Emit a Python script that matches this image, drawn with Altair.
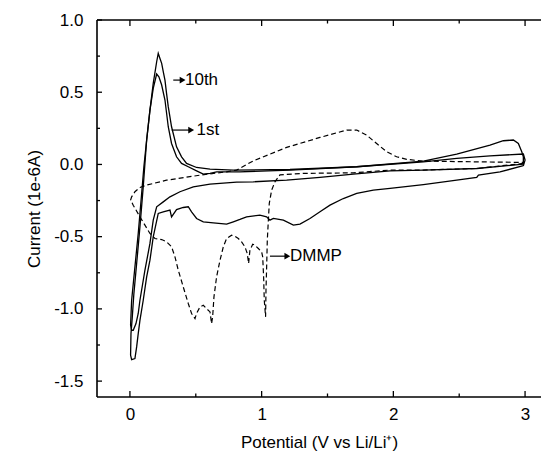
import altair as alt
import pandas as pd

# ---- data (potential V, current 1e-6 A) ----
first_x = [2.987, 2.810, 2.646, 2.633, 2.481, 2.228, 1.975, 1.848, 1.722, 1.620, 1.519, 1.443, 1.367, 1.291,
           1.241, 1.165, 1.089, 1.063, 1.038, 0.987, 0.886, 0.835, 0.785, 0.734, 0.633, 0.557, 0.506, 0.468,
           0.443, 0.405, 0.354, 0.316, 0.304, 0.253, 0.215, 0.177, 0.152, 0.127, 0.101, 0.076, 0.063, 0.051,
           0.038, 0.013,
           0.005, 0.008, 0.018, 0.030, 0.051, 0.076, 0.101, 0.127, 0.152, 0.177, 0.203, 0.220, 0.241, 0.266,
           0.291, 0.316, 0.354, 0.392, 0.443, 0.506, 0.557, 0.608, 0.658, 0.835, 1.215, 1.722, 2.228, 2.481,
           2.734, 2.987, 3.0, 2.987]
first_y = [-0.009, -0.051, -0.074, -0.090, -0.109, -0.139, -0.166, -0.178, -0.201, -0.236, -0.282, -0.328,
           -0.374, -0.413, -0.420, -0.386, -0.374, -0.386, -0.363, -0.351, -0.363, -0.381, -0.397, -0.413,
           -0.404, -0.397, -0.374, -0.328, -0.293, -0.298, -0.312, -0.363, -0.316, -0.328, -0.339, -0.501,
           -0.663, -0.778, -0.940, -1.079, -1.171, -1.263, -1.344, -1.351,
           -1.321, -1.171, -1.055, -0.894, -0.686, -0.432, -0.155, 0.169, 0.376, 0.527, 0.626, 0.607, 0.550,
           0.446, 0.261, 0.145, 0.053, 0.007, -0.016, -0.044, -0.067, -0.062, -0.051, -0.051, -0.039, -0.016,
           0.018, 0.042, 0.060, 0.072, 0.030, -0.009]

tenth_x = [2.987, 2.633, 2.228, 1.975, 1.696, 1.443, 1.190, 0.937, 0.810, 0.608, 0.481, 0.380, 0.304, 0.253,
           0.203, 0.177, 0.152, 0.114, 0.076, 0.063, 0.046, 0.025, 0.013,
           0.005, 0.013, 0.038, 0.063, 0.089, 0.106, 0.127, 0.152, 0.177, 0.203, 0.215, 0.228, 0.241, 0.253,
           0.266, 0.278, 0.291, 0.316, 0.354, 0.392, 0.430, 0.506, 0.608, 0.785, 1.215, 1.722, 2.228, 2.481,
           2.734, 2.835, 2.911, 2.949, 2.975, 2.987, 2.987]
tenth_y = [0.002, -0.028, -0.039, -0.044, -0.067, -0.090, -0.109, -0.120, -0.122, -0.136, -0.155, -0.189,
           -0.224, -0.259, -0.293, -0.386, -0.547, -0.732, -0.940, -1.032, -1.102, -1.148, -1.148,
           -1.113, -0.940, -0.709, -0.478, -0.201, -0.016, 0.169, 0.376, 0.561, 0.711, 0.769, 0.734, 0.700,
           0.642, 0.584, 0.492, 0.400, 0.261, 0.122, 0.053, 0.007, -0.021, -0.032, -0.039, -0.035, -0.016,
           0.023, 0.072, 0.134, 0.164, 0.169, 0.145, 0.088, 0.053, 0.002]

dmmp_x = [2.987, 2.633, 2.228, 1.975, 1.696, 1.316, 1.139, 1.101, 1.076, 1.058, 1.051, 1.043, 1.038, 1.033,
          1.030, 1.020, 1.015, 1.008, 1.000, 0.975, 0.949, 0.932, 0.911, 0.901, 0.891, 0.873, 0.848, 0.823,
          0.797, 0.772, 0.734, 0.709, 0.684, 0.658, 0.638, 0.628, 0.620, 0.608, 0.582, 0.557, 0.532, 0.506,
          0.494, 0.468, 0.443, 0.405, 0.367, 0.342, 0.316, 0.278, 0.241, 0.190, 0.152, 0.114, 0.076, 0.025,
          0.013, 0.005,
          0.013, 0.038, 0.076, 0.127, 0.278, 0.532, 0.734, 0.810, 0.937, 1.190, 1.443, 1.646, 1.722, 1.797,
          1.873, 1.949, 2.025, 2.101, 2.228, 2.987, 2.987]
dmmp_y = [0.007, -0.028, -0.039, -0.039, -0.058, -0.062, -0.072, -0.120, -0.178, -0.270, -0.386, -0.524,
          -0.709, -0.871, -1.055, -0.940, -0.778, -0.640, -0.605, -0.582, -0.559, -0.552, -0.594, -0.686,
          -0.617, -0.570, -0.536, -0.513, -0.497, -0.490, -0.513, -0.570, -0.663, -0.778, -0.917, -1.055,
          -1.102, -1.021, -0.998, -0.975, -0.986, -1.032, -1.067, -1.032, -0.963, -0.848, -0.732, -0.640,
          -0.570, -0.536, -0.520, -0.513, -0.478, -0.420, -0.363, -0.282, -0.259, -0.247,
          -0.224, -0.189, -0.159, -0.143, -0.109, -0.074, -0.051, -0.039, 0.025, 0.118, 0.187, 0.238, 0.238,
          0.203, 0.145, 0.088, 0.053, 0.035, 0.023, 0.014, 0.007]

x_major = [0, 1, 2, 3]
x_minor = [0.5, 1.5, 2.5]
y_major = [-1.5, -1.0, -0.5, 0.0, 0.5, 1.0]
y_minor = [-1.25, -0.75, -0.25, 0.25, 0.75]

labels = ["10th", "1st", "DMMP"]
label_x = [0.418, 0.506, 1.215]
label_y = [0.584, 0.238, -0.635]
arrow_x0 = [0.329, 0.317, 1.063]
arrow_x1 = [0.400, 0.465, 1.195]

# ---- tables ----
def frame(name, xs, ys):
    return pd.DataFrame({"x": xs, "y": ys, "series": name, "i": range(len(xs))})

solid = pd.concat([frame("1st", first_x, first_y), frame("10th", tenth_x, tenth_y)])
dashed = frame("DMMP", dmmp_x, dmmp_y)
ann = pd.DataFrame({"label": labels, "lx": label_x, "ly": label_y, "x0": arrow_x0, "x1": arrow_x1})

W, H = 444, 377
FONT = "Liberation Sans"
XT = "Potential (V vs Li/Li\u207a)"
YT = "Current (1e-6A)"
xs = alt.Scale(domain=[-0.25, 3.121], nice=False, zero=False)
ys = alt.Scale(domain=[-1.61, 1.0], nice=False, zero=False)

xaxis = alt.Axis(values=x_major, format=".0f", title=XT, labelPadding=9, titlePadding=12)
yaxis = alt.Axis(values=y_major, title=YT,
                 labelExpr="datum.value < 0 ? '-' + format(-datum.value, '.1f') : format(datum.value, '.1f')",
                 labelPadding=14, titlePadding=10)

lines = alt.Chart(solid).mark_line(color="black", strokeWidth=1.3).encode(
    x=alt.X("x:Q", scale=xs, axis=xaxis),
    y=alt.Y("y:Q", scale=ys, axis=yaxis),
    detail="series:N",
    order="i:Q",
)
dmmp = alt.Chart(dashed).mark_line(color="black", strokeWidth=1.2, strokeDash=[5, 3]).encode(
    x=alt.X("x:Q", scale=xs, title=XT),
    y=alt.Y("y:Q", scale=ys, title=YT),
    order="i:Q",
)

def xticks(vals, length):
    d = pd.DataFrame({"x": vals})
    bottom = alt.Chart(d).mark_rule(color="black", strokeWidth=1.3).encode(
        x=alt.X("x:Q", scale=xs, title=XT), y=alt.value(H), y2=alt.value(H - length))
    top = alt.Chart(d).mark_rule(color="black", strokeWidth=1.3).encode(
        x=alt.X("x:Q", scale=xs, title=XT), y=alt.value(0), y2=alt.value(length))
    return [bottom, top]

def yticks(vals, length):
    d = pd.DataFrame({"y": vals})
    return [alt.Chart(d).mark_rule(color="black", strokeWidth=1.3).encode(
        y=alt.Y("y:Q", scale=ys, title=YT), x=alt.value(0), x2=alt.value(length))]

# open frame (top, left, bottom); the right edge is off the picture in the original
frame_rules = [
    alt.Chart().mark_rule(color="black", strokeWidth=1.6).encode(x=alt.value(0), x2=alt.value(W), y=alt.value(0)),
    alt.Chart().mark_rule(color="black", strokeWidth=1.6).encode(x=alt.value(0), x2=alt.value(W), y=alt.value(H)),
    alt.Chart().mark_rule(color="black", strokeWidth=1.6).encode(x=alt.value(0), y=alt.value(0), y2=alt.value(H)),
]

arrows = alt.Chart(ann).mark_rule(color="black", strokeWidth=1.2).encode(
    x=alt.X("x0:Q", scale=xs, title=XT), x2="x1:Q",
    y=alt.Y("ly:Q", scale=ys, title=YT))
heads = alt.Chart(ann).mark_point(shape="triangle-right", filled=True, color="black", size=45, opacity=1).encode(
    x=alt.X("x1:Q", scale=xs, title=XT),
    y=alt.Y("ly:Q", scale=ys, title=YT))
texts = alt.Chart(ann).mark_text(align="left", baseline="middle", font=FONT, fontSize=17, color="black").encode(
    x=alt.X("lx:Q", scale=xs, title=XT),
    y=alt.Y("ly:Q", scale=ys, title=YT), text="label:N")

layers = [lines, dmmp] + xticks(x_major, 6) + xticks(x_minor, 3.5) + yticks(y_major, 5) + yticks(y_minor, 3) \
    + frame_rules + [arrows, heads, texts]

chart = alt.layer(*layers).properties(
    width=W, height=H,
    autosize=alt.AutoSizeParams(type="none"),
    padding={"left": 89, "top": 12, "right": 0, "bottom": 55},
).configure_view(
    stroke=None
).configure_axis(
    grid=False, domain=False, ticks=False, tickSize=0,
    labelFont=FONT, labelFontSize=17, labelColor="black",
    titleFont=FONT, titleFontSize=17, titleColor="black", titleFontWeight="normal",
)

chart.save("out.html", embed_options={"renderer": "svg", "actions": False})
